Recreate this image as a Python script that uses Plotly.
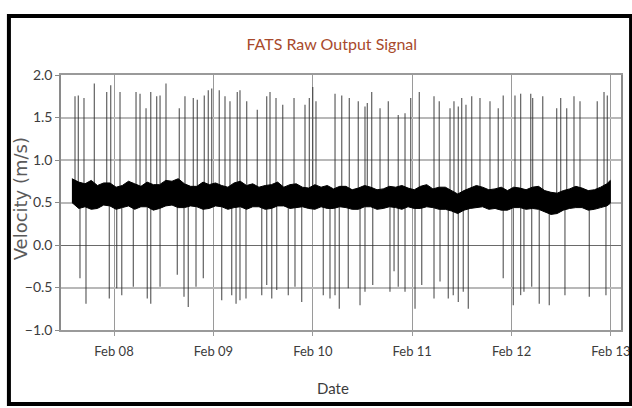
import plotly.graph_objects as go

# --- FATS raw output signal (velocity, m/s) -------------------------------
# Noise band of the signal: upper / lower envelope every 1.5 hours
band_time = [
    "2021-02-07 13:50", "2021-02-07 15:30", "2021-02-07 17:00", "2021-02-07 18:30",
    "2021-02-07 20:00", "2021-02-07 21:30", "2021-02-07 23:00",
    "2021-02-08 00:30", "2021-02-08 02:00", "2021-02-08 03:30", "2021-02-08 05:00",
    "2021-02-08 06:30", "2021-02-08 08:00", "2021-02-08 09:30", "2021-02-08 11:00",
    "2021-02-08 12:30", "2021-02-08 14:00", "2021-02-08 15:30", "2021-02-08 17:00",
    "2021-02-08 18:30", "2021-02-08 20:00", "2021-02-08 21:30", "2021-02-08 23:00",
    "2021-02-09 00:30", "2021-02-09 02:00", "2021-02-09 03:30", "2021-02-09 05:00",
    "2021-02-09 06:30", "2021-02-09 08:00", "2021-02-09 09:30", "2021-02-09 11:00",
    "2021-02-09 12:30", "2021-02-09 14:00", "2021-02-09 15:30", "2021-02-09 17:00",
    "2021-02-09 18:30", "2021-02-09 20:00", "2021-02-09 21:30", "2021-02-09 23:00",
    "2021-02-10 00:30", "2021-02-10 02:00", "2021-02-10 03:30", "2021-02-10 05:00",
    "2021-02-10 06:30", "2021-02-10 08:00", "2021-02-10 09:30", "2021-02-10 11:00",
    "2021-02-10 12:30", "2021-02-10 14:00", "2021-02-10 15:30", "2021-02-10 17:00",
    "2021-02-10 18:30", "2021-02-10 20:00", "2021-02-10 21:30", "2021-02-10 23:00",
    "2021-02-11 00:30", "2021-02-11 02:00", "2021-02-11 03:30", "2021-02-11 05:00",
    "2021-02-11 06:30", "2021-02-11 08:00", "2021-02-11 09:30", "2021-02-11 11:00",
    "2021-02-11 12:30", "2021-02-11 14:00", "2021-02-11 15:30", "2021-02-11 17:00",
    "2021-02-11 18:30", "2021-02-11 20:00", "2021-02-11 21:30", "2021-02-11 23:00",
    "2021-02-12 00:30", "2021-02-12 02:00", "2021-02-12 03:30", "2021-02-12 05:00",
    "2021-02-12 06:30", "2021-02-12 08:00", "2021-02-12 09:30", "2021-02-12 11:00",
    "2021-02-12 12:30", "2021-02-12 14:00", "2021-02-12 15:30", "2021-02-12 17:00",
    "2021-02-12 18:30", "2021-02-12 20:00", "2021-02-12 21:30", "2021-02-12 23:00",
    "2021-02-12 23:50",
]
band_upper = [
    0.78, 0.74, 0.72, 0.76, 0.70, 0.73, 0.73,
    0.68, 0.70, 0.75, 0.72, 0.69, 0.74, 0.71, 0.71, 0.76, 0.75, 0.78, 0.72, 0.69, 0.69, 0.74, 0.71,
    0.73, 0.70, 0.68, 0.73, 0.75, 0.70, 0.72, 0.68, 0.70, 0.71, 0.74, 0.68, 0.71, 0.72, 0.68, 0.67,
    0.71, 0.68, 0.70, 0.66, 0.69, 0.69, 0.65, 0.67, 0.70, 0.68, 0.65, 0.66, 0.69, 0.68, 0.70, 0.67,
    0.65, 0.69, 0.71, 0.66, 0.68, 0.68, 0.64, 0.60, 0.64, 0.67, 0.70, 0.68, 0.65, 0.66, 0.68, 0.64,
    0.68, 0.67, 0.65, 0.68, 0.69, 0.64, 0.62, 0.61, 0.64, 0.66, 0.69, 0.67, 0.64, 0.65, 0.68, 0.72,
    0.76,
]
band_lower = [
    0.50, 0.43, 0.45, 0.42, 0.43, 0.47, 0.46,
    0.42, 0.44, 0.46, 0.42, 0.45, 0.45, 0.41, 0.43, 0.46, 0.47, 0.44, 0.44, 0.46, 0.45, 0.42, 0.43,
    0.46, 0.45, 0.42, 0.44, 0.45, 0.42, 0.45, 0.45, 0.42, 0.43, 0.46, 0.46, 0.43, 0.44, 0.45, 0.43,
    0.42, 0.45, 0.43, 0.43, 0.45, 0.44, 0.42, 0.42, 0.45, 0.45, 0.42, 0.43, 0.45, 0.44, 0.42, 0.45,
    0.43, 0.43, 0.45, 0.44, 0.42, 0.42, 0.40, 0.37, 0.41, 0.43, 0.44, 0.45, 0.42, 0.43, 0.41, 0.41,
    0.44, 0.44, 0.42, 0.43, 0.42, 0.39, 0.36, 0.37, 0.41, 0.43, 0.44, 0.44, 0.41, 0.42, 0.44, 0.46,
    0.49,
]
band_level = 0.6  # typical signal level the spikes leave from

# Positive spikes: time and peak velocity
up_time = [
    "2021-02-07 14:35", "2021-02-07 15:23", "2021-02-07 16:45", "2021-02-07 19:15",
    "2021-02-07 22:14", "2021-02-07 23:12", "2021-02-08 01:27", "2021-02-08 05:19",
    "2021-02-08 06:17", "2021-02-08 07:44", "2021-02-08 08:52", "2021-02-08 10:18",
    "2021-02-08 11:07", "2021-02-08 12:33", "2021-02-08 15:46", "2021-02-08 17:08",
    "2021-02-08 19:09", "2021-02-08 20:07", "2021-02-08 21:48", "2021-02-08 22:46",
    "2021-02-08 23:35", "2021-02-09 01:25", "2021-02-09 02:48", "2021-02-09 04:00",
    "2021-02-09 05:46", "2021-02-09 06:25", "2021-02-09 08:02", "2021-02-09 10:36",
    "2021-02-09 12:52", "2021-02-09 13:40", "2021-02-09 15:07", "2021-02-09 16:44",
    "2021-02-09 19:28", "2021-02-09 22:07", "2021-02-09 23:10", "2021-02-09 23:59",
    "2021-02-10 00:46", "2021-02-10 05:22", "2021-02-10 06:59", "2021-02-10 08:49",
    "2021-02-10 10:59", "2021-02-10 12:36", "2021-02-10 13:10", "2021-02-10 14:13",
    "2021-02-10 16:14", "2021-02-10 18:14", "2021-02-10 20:38", "2021-02-10 22:16",
    "2021-02-10 23:38", "2021-02-11 01:43", "2021-02-11 05:16", "2021-02-11 06:32",
    "2021-02-11 09:08", "2021-02-11 10:05", "2021-02-11 11:08", "2021-02-11 11:57",
    "2021-02-11 12:59", "2021-02-11 14:22", "2021-02-11 16:22", "2021-02-11 18:47",
    "2021-02-11 20:47", "2021-02-11 21:59", "2021-02-12 00:49", "2021-02-12 02:11",
    "2021-02-12 04:37", "2021-02-12 05:05", "2021-02-12 07:31", "2021-02-12 10:53",
    "2021-02-12 11:51", "2021-02-12 13:18", "2021-02-12 15:04", "2021-02-12 16:31",
    "2021-02-12 20:41", "2021-02-12 22:19", "2021-02-12 23:07",
]
up_peak = [
    1.75, 1.76, 1.73, 1.90, 1.80, 1.88, 1.80, 1.80, 1.78, 1.61, 1.80, 1.75,
    1.76, 1.90, 1.61, 1.75, 1.73, 1.71, 1.76, 1.82, 1.84, 1.82, 1.75, 1.69,
    1.80, 1.82, 1.69, 1.59, 1.75, 1.80, 1.73, 1.65, 1.73, 1.65, 1.73, 1.86,
    1.69, 1.78, 1.76, 1.73, 1.69, 1.63, 1.67, 1.80, 1.61, 1.69, 1.53, 1.55,
    1.73, 1.80, 1.75, 1.69, 1.61, 1.69, 1.63, 1.73, 1.65, 1.75, 1.73, 1.69,
    1.61, 1.76, 1.76, 1.78, 1.78, 1.73, 1.75, 1.61, 1.73, 1.61, 1.75, 1.69,
    1.69, 1.80, 1.76,
]

# Negative spikes: time and trough velocity
down_time = [
    "2021-02-07 15:47", "2021-02-07 17:14", "2021-02-07 22:52", "2021-02-08 00:39",
    "2021-02-08 01:52", "2021-02-08 04:40", "2021-02-08 08:02", "2021-02-08 08:52",
    "2021-02-08 11:07", "2021-02-08 15:17", "2021-02-08 16:54", "2021-02-08 17:56",
    "2021-02-08 19:48", "2021-02-08 21:34", "2021-02-09 02:00", "2021-02-09 04:25",
    "2021-02-09 05:28", "2021-02-09 06:25", "2021-02-09 07:52", "2021-02-09 11:40",
    "2021-02-09 12:52", "2021-02-09 14:05", "2021-02-09 15:17", "2021-02-09 18:05",
    "2021-02-09 19:42", "2021-02-09 21:19", "2021-02-10 02:32", "2021-02-10 04:09",
    "2021-02-10 05:22", "2021-02-10 06:24", "2021-02-10 08:34", "2021-02-10 11:24",
    "2021-02-10 12:36", "2021-02-10 14:28", "2021-02-10 18:38", "2021-02-10 19:37",
    "2021-02-10 20:38", "2021-02-10 22:16", "2021-02-11 00:41", "2021-02-11 02:18",
    "2021-02-11 05:16", "2021-02-11 06:43", "2021-02-11 08:43", "2021-02-11 09:55",
    "2021-02-11 11:08", "2021-02-11 12:20", "2021-02-11 13:33", "2021-02-11 21:59",
    "2021-02-12 00:25", "2021-02-12 02:11", "2021-02-12 02:59", "2021-02-12 04:51",
    "2021-02-12 06:41", "2021-02-12 09:06", "2021-02-12 12:53", "2021-02-12 18:46",
    "2021-02-12 22:47",
]
down_trough = [
    -0.39, -0.69, -0.63, -0.51, -0.59, -0.49, -0.63, -0.69, -0.49, -0.35,
    -0.61, -0.73, -0.49, -0.39, -0.65, -0.59, -0.69, -0.65, -0.63, -0.59,
    -0.47, -0.63, -0.53, -0.59, -0.49, -0.67, -0.59, -0.63, -0.59, -0.75,
    -0.51, -0.71, -0.55, -0.47, -0.55, -0.31, -0.49, -0.55, -0.75, -0.47,
    -0.63, -0.43, -0.63, -0.59, -0.67, -0.55, -0.75, -0.39, -0.71, -0.59,
    -0.55, -0.49, -0.69, -0.71, -0.59, -0.61, -0.59,
]

x_ticks = ["2021-02-08", "2021-02-09", "2021-02-10", "2021-02-11", "2021-02-12", "2021-02-13"]
x_tick_text = ["Feb 08", "Feb 09", "Feb 10", "Feb 11", "Feb 12", "Feb 13"]
x_range = ["2021-02-07 11:12", "2021-02-13 02:25"]
y_ticks = [-1.0, -0.5, 0.0, 0.5, 1.0, 1.5, 2.0]


def segments(times, ends, start):
    """Vertical strokes from the signal level to each spike extreme."""
    xs, ys = [], []
    for t, v in zip(times, ends):
        xs += [t, t, None]
        ys += [start, v, None]
    return xs, ys


FONT = "Lato, 'DejaVu Sans Condensed', sans-serif"
TEXT = "#3c3c3c"
SPIKE = "rgba(45,45,45,0.7)"

fig = go.Figure()

ux, uy = segments(up_time, up_peak, band_level)
dx, dy = segments(down_time, down_trough, band_level)
fig.add_trace(go.Scatter(x=ux, y=uy, mode="lines", line=dict(color=SPIKE, width=1.3),
                         hoverinfo="skip", showlegend=False))
fig.add_trace(go.Scatter(x=dx, y=dy, mode="lines", line=dict(color=SPIKE, width=1.3),
                         hoverinfo="skip", showlegend=False))

# dense noise band drawn as a filled envelope
fig.add_trace(go.Scatter(
    x=band_time + band_time[::-1],
    y=band_upper + band_lower[::-1],
    mode="lines", fill="toself", fillcolor="black",
    line=dict(color="black", width=1.0),
    hoverinfo="skip", showlegend=False,
))

fig.update_layout(
    width=632, height=408,
    margin=dict(l=61, r=11, t=75, b=78, autoexpand=False),
    paper_bgcolor="white", plot_bgcolor="white",
    font=dict(family=FONT, size=13, color=TEXT),
    title=dict(text="FATS Raw Output Signal", x=0.525, xanchor="center",
               y=0.89, yanchor="middle",
               font=dict(family=FONT, size=16, color="#a84a2c")),
    showlegend=False,
)

fig.update_xaxes(
    type="date", range=x_range, automargin=False,
    tickvals=x_ticks, ticktext=x_tick_text,
    showgrid=True, gridcolor="#9a9a9a", gridwidth=1,
    showline=True, linecolor="#9a9a9a", linewidth=1.5, mirror=True,
    ticks="outside", ticklen=4, tickcolor="#9a9a9a", ticklabelstandoff=5,
    tickfont=dict(size=13),
)
fig.update_yaxes(
    range=[-1, 2], tickvals=y_ticks, tickformat=".1f", automargin=False,
    showgrid=True, gridcolor="#b8b8b8", gridwidth=1.5,
    zeroline=True, zerolinecolor="#6a6a6a", zerolinewidth=1,
    showline=True, linecolor="#8a8a8a", linewidth=1.5, mirror=True,
    ticks="outside", ticklen=4, tickcolor="#8a8a8a",
    tickfont=dict(size=14),
)

# axis titles
fig.add_annotation(text="Date", xref="paper", yref="paper", x=0.486, y=-0.227,
                   xanchor="center", yanchor="middle", showarrow=False,
                   font=dict(family=FONT, size=15, color=TEXT))
fig.add_annotation(text="Velocity (m/s)", xref="paper", yref="paper", x=-0.072, y=0.515,
                   xanchor="center", yanchor="middle", textangle=-90, showarrow=False,
                   font=dict(family="DejaVu Sans, sans-serif", size=18, color="#5a5a5a"))

# black frame around the whole figure
fig.add_shape(type="rect", xref="paper", yref="paper",
              x0=-0.093, x1=1.018, y0=-0.29, y1=1.231,
              line=dict(color="black", width=4), fillcolor="rgba(0,0,0,0)", layer="above")

fig.write_html("out.html")
